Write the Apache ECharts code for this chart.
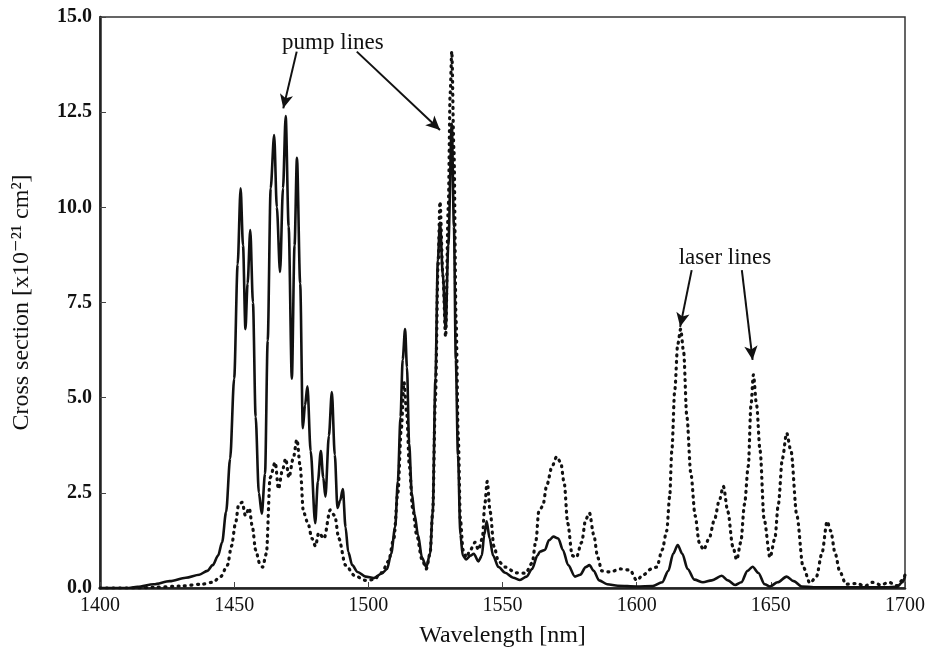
<!DOCTYPE html>
<html>
<head>
<meta charset="utf-8">
<script src="https://cdn.jsdelivr.net/npm/echarts@6/dist/echarts.min.js"></script>
<style>
  html, body { margin: 0; padding: 0; background: #fff; }
  #chart { width: 944px; height: 658px; }
</style>
</head>
<body>
<div id="chart"></div>
<script>
// 实线：吸收截面
var absWl = [1400, 1410, 1414, 1420, 1426, 1432, 1437, 1440, 1442, 1444, 1445.5, 1447, 1448.5, 1450, 1451.3, 1452.4,
  1453.3, 1454.2, 1455, 1456, 1457, 1458, 1459.2, 1460.3, 1461.5, 1462.5, 1463.6, 1464.9, 1465.9, 1467.1, 1468.2, 1469.2,
  1470.3, 1471.5, 1472.5, 1473.4, 1474.6, 1475.6, 1476.4, 1477.3, 1478.5, 1480.2, 1481.2, 1482.3, 1483.2, 1484, 1485.3,
  1486.4, 1487.5, 1488.5, 1489.5, 1490.5, 1491.5, 1492.5, 1494, 1496, 1499, 1502, 1505, 1507, 1508.5, 1510, 1511, 1512,
  1512.8, 1513.7, 1514.4, 1515.2, 1516.2, 1517.2, 1518.5, 1520, 1521.6, 1523, 1524, 1525, 1525.9, 1526.7, 1527.8, 1528.8,
  1529.8, 1531.1, 1531.9, 1532.6, 1533.4, 1534.3, 1535.2, 1536.5, 1538, 1539.3, 1541, 1542.3, 1543.2, 1544.1, 1545.2,
  1546.5, 1548.5, 1551, 1554, 1556.5, 1559, 1561, 1563, 1564, 1565.8, 1567.3, 1569, 1570.8, 1572.5, 1574.5, 1577, 1579,
  1581, 1582.4, 1584, 1586, 1589, 1593, 1600, 1606, 1609.5, 1611.8, 1613.6, 1615.3, 1617, 1619, 1621.5, 1624.7, 1628,
  1631.7, 1634, 1636.7, 1639, 1641.3, 1643.2, 1645.3, 1647.7, 1649.7, 1652.5, 1655.9, 1658.5, 1661.5, 1666, 1675, 1685,
  1693, 1697, 1699, 1700];
var absCs = [0, 0, 0.03, 0.1, 0.18, 0.27, 0.35, 0.45, 0.6, 0.85, 1.2, 2.0, 3.4, 5.5, 8.5, 10.5,
  9.0, 6.8, 8.0, 9.4, 7.5, 4.5, 2.5, 1.95, 3.0, 6.5, 10.5, 11.9, 10.0, 8.3, 10.5, 12.4,
  9.5, 5.5, 9.0, 11.3, 8.0, 4.2, 4.8, 5.3, 3.6, 1.7, 2.8, 3.6, 2.9, 2.4, 4.0,
  5.15, 3.5, 2.1, 2.3, 2.6, 1.6, 0.95, 0.6, 0.42, 0.3, 0.26, 0.38, 0.5, 0.9, 1.6, 2.8, 4.5,
  6.0, 6.8, 5.8, 3.8, 2.5, 1.95, 1.4, 0.8, 0.55, 0.9, 2.0, 5.5, 8.6, 9.6, 8.2, 6.8,
  9.0, 12.2, 9.5, 6.0, 3.5, 1.4, 0.85, 0.75, 0.85, 0.9, 0.7, 0.85, 1.4, 1.75, 1.3,
  0.85, 0.55, 0.4, 0.27, 0.21, 0.3, 0.5, 0.85, 0.96, 1.0, 1.25, 1.35, 1.3, 1.0, 0.6, 0.3, 0.35,
  0.55, 0.6, 0.45, 0.2, 0.1, 0.06, 0.04, 0.05, 0.15, 0.45, 0.9, 1.13, 0.9, 0.5, 0.22, 0.15, 0.2,
  0.32, 0.2, 0.08, 0.15, 0.45, 0.56, 0.4, 0.1, 0.04, 0.15, 0.3, 0.18, 0.04, 0.02, 0.02, 0.02,
  0.02, 0.03, 0.15, 0.3];

// 虚线：发射截面
var emiWl = [1400, 1415, 1420, 1430, 1438, 1442, 1445, 1447.5, 1449, 1450.5, 1451.7, 1453, 1454.2, 1455.6, 1456.8,
  1458, 1459.5, 1460.6, 1462, 1463.4, 1465.3, 1466.5, 1468, 1469.2, 1470.4, 1472, 1473.4, 1474.6, 1475.8, 1477.5, 1479,
  1480.3, 1481.5, 1483.5, 1485.8, 1487.5, 1489, 1491.5, 1495, 1499, 1502, 1505, 1507.5, 1509.5, 1511, 1512.3, 1513.3,
  1514.3, 1515.3, 1516.5, 1518, 1520, 1521.6, 1523, 1524, 1525, 1526, 1526.7, 1527.8, 1528.8, 1529.8, 1530.5, 1531.1,
  1531.9, 1532.7, 1533.5, 1534.3, 1535.3, 1536.5, 1538, 1539.8, 1541, 1542.5, 1543.4, 1544.3, 1545.4, 1546.8, 1548.5,
  1551, 1555, 1558.6, 1561, 1562.5, 1563.5, 1565, 1566.5, 1568.5, 1570.2, 1571.7, 1573, 1574.3, 1576, 1577.5, 1579.5,
  1581, 1582.4, 1584, 1585.5, 1587, 1590, 1594, 1597.5, 1600, 1602.5, 1605.5, 1607.5, 1609.5, 1611.2, 1612.3, 1613.1,
  1614.2, 1615.3, 1616.4, 1617.5, 1618.7, 1620.2, 1621.8, 1623.3, 1624.9, 1627, 1629, 1630.8, 1632.3, 1634, 1635.8,
  1637.3, 1638.8, 1640.2, 1641.6, 1642.6, 1643.5, 1644.7, 1646, 1647.5, 1649.7, 1651.5, 1652.8, 1654.3, 1655.9, 1657.5,
  1659.7, 1662, 1664.6, 1667, 1669, 1671, 1672.3, 1674, 1675.7, 1678, 1682, 1685, 1688, 1691, 1694, 1697, 1699, 1700];
var emiCs = [0, 0, 0.02, 0.05, 0.1, 0.15, 0.3, 0.6, 1.1, 1.7, 2.2, 2.25, 1.9, 2.1, 1.6,
  1.0, 0.65, 0.55, 0.9, 2.9, 3.3, 2.6, 3.1, 3.4, 2.9, 3.4, 3.9, 3.2, 2.0, 1.7, 1.3,
  1.1, 1.45, 1.3, 2.05, 1.9, 1.3, 0.6, 0.32, 0.2, 0.22, 0.4, 0.7, 1.3, 2.5, 4.2, 5.4,
  4.6, 3.2, 2.1, 1.4, 0.75, 0.5, 0.9, 2.0, 5.0, 8.5, 10.15, 8.2, 6.6, 10.0, 13.0, 14.1,
  11.5, 7.0, 4.0, 1.8, 1.0, 0.8, 1.0, 1.2, 1.0, 1.3, 2.2, 2.8, 2.0, 1.1, 0.7,
  0.55, 0.4, 0.39, 0.65, 1.26, 2.0, 2.15, 2.7, 3.2, 3.45, 3.3, 2.75, 1.7, 0.85, 0.8, 1.2,
  1.8, 1.97, 1.4, 0.8, 0.45, 0.42, 0.5, 0.47, 0.2, 0.35, 0.5, 0.55, 1.0, 1.5, 2.4, 3.6,
  5.2, 6.4, 6.8, 6.2, 4.5, 3.0, 1.9, 1.2, 1.0, 1.3, 1.8, 2.3, 2.67, 2.0, 1.1,
  0.74, 1.2, 2.2, 3.2, 4.8, 5.6, 4.8, 3.6, 1.8, 0.8, 1.3, 2.2, 3.4, 4.07, 3.6,
  1.9, 0.56, 0.13, 0.3, 0.9, 1.75, 1.5, 0.9, 0.43, 0.1, 0.12, 0.05, 0.15, 0.08, 0.15, 0.06, 0.2, 0.34];

var yTicks = [0, 2.5, 5, 7.5, 10, 12.5, 15];

// 注释：箭头起止点 [波长, 截面]
var arrows = [
  [[1473.3, 14.09], [1468.3, 12.6]],
  [[1495.7, 14.09], [1526.7, 12.03]],
  [[1620.5, 8.35], [1616.2, 6.86]],
  [[1639.2, 8.35], [1643.2, 5.99]]
];
var notes = [
  { text: 'pump lines', at: [1486.8, 14.32] },
  { text: 'laser lines', at: [1632.9, 8.67] }
];

function pairs(xs, ys) {
  return xs.map(function (x, i) { return [x, ys[i]]; });
}

var chart = echarts.init(document.getElementById('chart'), null, { renderer: 'canvas' });
var serif = '"Liberation Serif", "DejaVu Serif", serif';

var option = {
  backgroundColor: '#fff',
  animation: false,
  grid: {
    left: 100, right: 39, top: 17, bottom: 70,
    show: true, borderColor: '#333', borderWidth: 1.5
  },
  xAxis: {
    type: 'value', min: 1400, max: 1700, interval: 50,
    name: 'Wavelength [nm]', nameLocation: 'middle', nameGap: 36,
    nameTextStyle: { fontFamily: serif, fontSize: 24, color: '#111' },
    axisLine: { lineStyle: { color: '#222', width: 2.5 } },
    axisTick: { inside: true, length: 6, lineStyle: { color: '#444', width: 1 } },
    axisLabel: {
      fontFamily: serif, fontSize: 20, color: '#111', margin: 8,
      formatter: function (v) { return String(v); }
    },
    splitLine: { show: false }
  },
  yAxis: {
    type: 'value', min: yTicks[0], max: yTicks[yTicks.length - 1], interval: 2.5,
    name: 'Cross section [x10\u207B\u00B2\u00B9 cm\u00B2]', nameLocation: 'middle', nameGap: 66,
    nameTextStyle: { fontFamily: serif, fontSize: 24, color: '#111' },
    axisLine: { show: true, lineStyle: { color: '#222', width: 2.5 } },
    axisTick: { show: true, inside: true, length: 6, lineStyle: { color: '#444', width: 1 } },
    axisLabel: {
      fontFamily: serif, fontSize: 20, fontWeight: 'bold', color: '#111', margin: 8,
      formatter: function (v) { return v.toFixed(1); }
    },
    splitLine: { show: false }
  },
  series: [
    {
      name: 'emission', type: 'line', data: pairs(emiWl, emiCs),
      showSymbol: false, smooth: 0.3, smoothMonotone: 'x',
      lineStyle: { color: '#111', width: 3.2, type: [1, 5.5], cap: 'round' },
      z: 2
    },
    {
      name: 'absorption', type: 'line', data: pairs(absWl, absCs),
      showSymbol: false, smooth: 0.3, smoothMonotone: 'x',
      lineStyle: { color: '#111', width: 2.6 },
      z: 3,
      markLine: {
        silent: true, symbol: ['none', 'arrow'], symbolSize: [10, 14],
        label: { show: false },
        lineStyle: { color: '#111', width: 2, type: 'solid' },
        data: arrows.map(function (a) {
          return [{ coord: a[0] }, { coord: a[1] }];
        })
      },
      markPoint: {
        silent: true, symbol: 'circle', symbolSize: 0,
        label: {
          show: true, position: 'inside', color: '#111',
          fontFamily: serif, fontSize: 23,
          formatter: function (p) { return p.name; }
        },
        data: notes.map(function (n) { return { name: n.text, coord: n.at }; })
      }
    }
  ]
};

chart.setOption(option);
</script>
</body>
</html>
